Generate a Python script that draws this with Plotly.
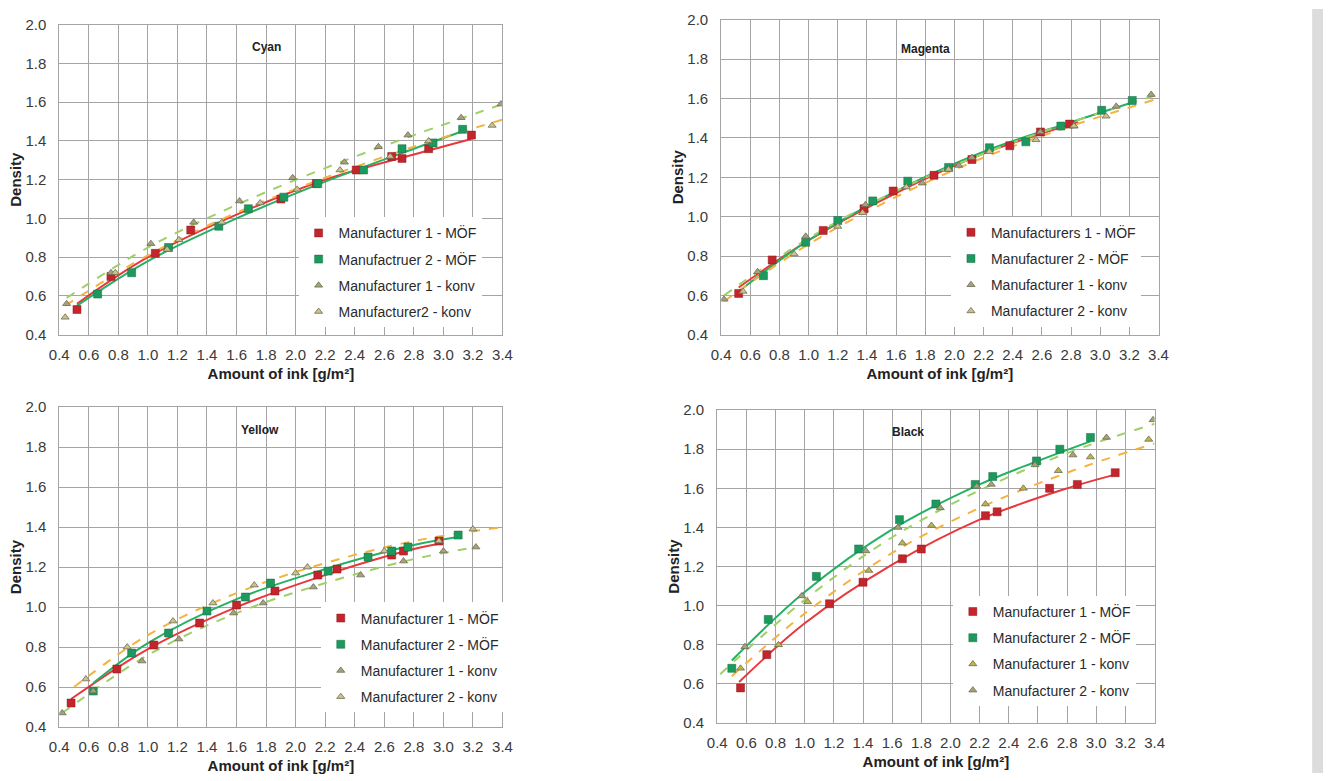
import plotly.graph_objects as go

# ---------------- DATA ----------------
# Cyan
cyan_m1_mof_x = [0.52, 0.75, 1.05, 1.29, 1.90, 2.14, 2.41, 2.65, 2.72, 2.90, 3.19]
cyan_m1_mof_y = [0.53, 0.70, 0.82, 0.94, 1.10, 1.18, 1.25, 1.32, 1.31, 1.36, 1.43]
cyan_m2_mof_x = [0.66, 0.89, 1.14, 1.48, 1.68, 1.92, 2.15, 2.46, 2.72, 2.93, 3.13]
cyan_m2_mof_y = [0.61, 0.72, 0.85, 0.96, 1.05, 1.11, 1.18, 1.25, 1.36, 1.39, 1.46]
cyan_m1_konv_x = [0.45, 0.75, 1.02, 1.31, 1.62, 1.98, 2.33, 2.56, 2.76, 3.12, 3.39]
cyan_m1_konv_y = [0.56, 0.72, 0.87, 0.98, 1.09, 1.21, 1.29, 1.37, 1.43, 1.52, 1.59]
cyan_m2_konv_x = [0.44, 0.78, 1.13, 1.21, 1.50, 1.76, 2.01, 2.30, 2.64, 2.90, 3.33]
cyan_m2_konv_y = [0.49, 0.72, 0.84, 0.89, 0.98, 1.08, 1.15, 1.25, 1.32, 1.40, 1.48]
cyan_fit_m1_mof_x = [0.52, 1.0, 1.6, 2.2, 2.8, 3.19]
cyan_fit_m1_mof_y = [0.56, 0.80, 1.02, 1.20, 1.33, 1.41]
cyan_fit_m2_mof_x = [0.52, 1.0, 1.6, 2.2, 2.8, 3.13]
cyan_fit_m2_mof_y = [0.55, 0.78, 1.00, 1.19, 1.36, 1.45]
cyan_fit_m1_konv_x = [0.45, 1.0, 1.6, 2.2, 2.8, 3.4]
cyan_fit_m1_konv_y = [0.59, 0.85, 1.07, 1.26, 1.43, 1.59]
cyan_fit_m2_konv_x = [0.44, 1.0, 1.6, 2.2, 2.8, 3.4]
cyan_fit_m2_konv_y = [0.55, 0.81, 1.03, 1.21, 1.37, 1.51]
cyan_names = ["Manufacturer 1 - MÖF", "Manufactruer 2 - MÖF",
              "Manufacturer 1 - konv", "Manufacturer2 - konv"]

# Magenta
magenta_m1_mof_x = [0.52, 0.75, 1.10, 1.38, 1.58, 1.86, 2.12, 2.38, 2.59, 2.79]
magenta_m1_mof_y = [0.61, 0.78, 0.93, 1.04, 1.13, 1.21, 1.29, 1.36, 1.43, 1.47]
magenta_m2_mof_x = [0.69, 0.98, 1.20, 1.44, 1.68, 1.96, 2.24, 2.49, 2.73, 3.01, 3.22]
magenta_m2_mof_y = [0.70, 0.87, 0.98, 1.08, 1.18, 1.25, 1.35, 1.38, 1.46, 1.54, 1.59]
magenta_m1_konv_x = [0.42, 0.65, 0.98, 1.39, 1.78, 2.03, 2.12, 2.59, 2.82, 3.11, 3.35]
magenta_m1_konv_y = [0.58, 0.72, 0.90, 1.06, 1.17, 1.26, 1.30, 1.43, 1.46, 1.56, 1.62]
magenta_m2_konv_x = [0.55, 0.90, 1.20, 1.37, 1.67, 1.96, 2.24, 2.56, 2.82, 3.04]
magenta_m2_konv_y = [0.62, 0.81, 0.95, 1.02, 1.15, 1.24, 1.33, 1.39, 1.46, 1.51]
magenta_fit_m1_mof_x = [0.52, 1.0, 1.6, 2.2, 2.85]
magenta_fit_m1_mof_y = [0.64, 0.88, 1.12, 1.32, 1.48]
magenta_fit_m2_mof_x = [0.52, 1.0, 1.6, 2.2, 2.8, 3.22]
magenta_fit_m2_mof_y = [0.62, 0.88, 1.13, 1.33, 1.48, 1.58]
magenta_fit_m1_konv_x = [0.42, 1.0, 1.6, 2.2, 2.8, 3.4]
magenta_fit_m1_konv_y = [0.60, 0.89, 1.13, 1.32, 1.48, 1.62]
magenta_fit_m2_konv_x = [0.42, 1.0, 1.6, 2.2, 2.8, 3.4]
magenta_fit_m2_konv_y = [0.57, 0.86, 1.10, 1.30, 1.46, 1.60]
magenta_names = ["Manufacturers 1 - MÖF", "Manufacturer 2 - MÖF",
                 "Manufacturer 1 - konv", "Manufacturer 2 - konv"]

# Yellow
yellow_m1_mof_x = [0.48, 0.79, 1.04, 1.35, 1.60, 1.86, 2.15, 2.28, 2.65, 2.73, 2.97]
yellow_m1_mof_y = [0.52, 0.69, 0.81, 0.92, 1.01, 1.08, 1.16, 1.19, 1.26, 1.28, 1.33]
yellow_m2_mof_x = [0.63, 0.89, 1.14, 1.40, 1.66, 1.83, 2.22, 2.49, 2.65, 2.76, 3.10]
yellow_m2_mof_y = [0.58, 0.77, 0.87, 0.98, 1.05, 1.12, 1.18, 1.25, 1.28, 1.30, 1.36]
yellow_m1_konv_x = [0.42, 0.63, 0.96, 1.21, 1.58, 1.78, 2.12, 2.44, 2.73, 3.00, 3.22]
yellow_m1_konv_y = [0.47, 0.58, 0.73, 0.84, 0.97, 1.02, 1.10, 1.16, 1.23, 1.28, 1.30]
yellow_m2_konv_x = [0.58, 0.86, 1.17, 1.44, 1.72, 2.00, 2.08, 2.60, 2.97, 3.20]
yellow_m2_konv_y = [0.64, 0.80, 0.93, 1.02, 1.11, 1.17, 1.20, 1.28, 1.33, 1.39]
yellow_fit_m1_mof_x = [0.48, 1.0, 1.6, 2.2, 2.8, 3.0]
yellow_fit_m1_mof_y = [0.54, 0.79, 1.00, 1.16, 1.29, 1.32]
yellow_fit_m2_mof_x = [0.63, 1.0, 1.6, 2.2, 2.8, 3.1]
yellow_fit_m2_mof_y = [0.62, 0.82, 1.04, 1.19, 1.31, 1.35]
yellow_fit_m1_konv_x = [0.42, 1.0, 1.6, 2.2, 2.8, 3.22]
yellow_fit_m1_konv_y = [0.47, 0.76, 0.97, 1.12, 1.24, 1.30]
yellow_fit_m2_konv_x = [0.50, 1.0, 1.6, 2.2, 2.8, 3.4]
yellow_fit_m2_konv_y = [0.60, 0.86, 1.07, 1.22, 1.33, 1.40]
yellow_names = ["Manufacturer 1 - MÖF", "Manufacturer 2 - MÖF",
                "Manufacturer 1 - konv", "Manufacturer 2 - konv"]

# Black
black_m1_mof_x = [0.56, 0.74, 1.17, 1.40, 1.67, 1.80, 2.24, 2.32, 2.68, 2.87, 3.13]
black_m1_mof_y = [0.58, 0.75, 1.01, 1.12, 1.24, 1.29, 1.46, 1.48, 1.60, 1.62, 1.68]
black_m2_mof_x = [0.50, 0.75, 1.08, 1.37, 1.65, 1.90, 2.17, 2.29, 2.59, 2.75, 2.96]
black_m2_mof_y = [0.68, 0.93, 1.15, 1.29, 1.44, 1.52, 1.62, 1.66, 1.74, 1.80, 1.86]
black_m1_konv_x = [0.56, 0.82, 1.02, 1.44, 1.67, 1.87, 2.24, 2.50, 2.74, 2.96, 3.36]
black_m1_konv_y = [0.68, 0.80, 1.02, 1.18, 1.32, 1.41, 1.52, 1.60, 1.69, 1.76, 1.85]
black_m2_konv_x = [0.59, 0.98, 1.42, 1.64, 1.93, 2.18, 2.28, 2.58, 2.84, 3.07, 3.39]
black_m2_konv_y = [0.79, 1.05, 1.28, 1.40, 1.50, 1.61, 1.62, 1.72, 1.77, 1.86, 1.95]
black_fit_m1_mof_x = [0.55, 1.0, 1.6, 2.2, 2.8, 3.13]
black_fit_m1_mof_y = [0.61, 0.91, 1.21, 1.44, 1.60, 1.67]
black_fit_m2_mof_x = [0.50, 1.0, 1.6, 2.2, 2.6, 2.96]
black_fit_m2_mof_y = [0.72, 1.07, 1.39, 1.62, 1.74, 1.84]
black_fit_m1_konv_x = [0.50, 1.0, 1.6, 2.2, 2.8, 3.4]
black_fit_m1_konv_y = [0.64, 0.96, 1.27, 1.50, 1.68, 1.83]
black_fit_m2_konv_x = [0.42, 1.0, 1.6, 2.2, 2.8, 3.4]
black_fit_m2_konv_y = [0.65, 1.03, 1.35, 1.59, 1.78, 1.93]
black_names = ["Manufacturer 1 - MÖF", "Manufacturer 2 - MÖF",
               "Manufacturer 1 - konv", "Manufacturer 2 - konv"]

x_ticks = [0.4, 0.6, 0.8, 1.0, 1.2, 1.4, 1.6, 1.8, 2.0, 2.2, 2.4, 2.6, 2.8, 3.0, 3.2, 3.4]
y_ticks = [0.4, 0.6, 0.8, 1.0, 1.2, 1.4, 1.6, 1.8, 2.0]

# ---------------- STYLE ----------------
FONT = "Liberation Sans, Arial, sans-serif"
RED_MK, RED_LN = "#c4252c", "#e8383c"
GRN_MK, GRN_LN = "#1c9a5e", "#25b064"
DASH_GRN, DASH_ORG = "#9fd068", "#f6b23e"
TRI = "#a6a27e"
TRI_EDGE = "#6f6b50"
GRID = "#a4a4a4"

# pixel boxes of the plot areas; title / legend anchors in data units
panels = [
    dict(key="cyan", title="Cyan", names=cyan_names, ax="", leg="legend",
         dx=[50, 500], dy=[16, 333], title_at=(1.80, 1.885), leg_at=(2.30, 0.91),
         data=[(cyan_m1_mof_x, cyan_m1_mof_y), (cyan_m2_mof_x, cyan_m2_mof_y),
               (cyan_m1_konv_x, cyan_m1_konv_y), (cyan_m2_konv_x, cyan_m2_konv_y)],
         fits=[(cyan_fit_m1_mof_x, cyan_fit_m1_mof_y), (cyan_fit_m2_mof_x, cyan_fit_m2_mof_y),
               (cyan_fit_m1_konv_x, cyan_fit_m1_konv_y), (cyan_fit_m2_konv_x, cyan_fit_m2_konv_y)],
         konv_cols=[DASH_GRN, DASH_ORG], tri_cols=[TRI, "#c9c38e"]),
    dict(key="magenta", title="Magenta", names=magenta_names, ax="2", leg="legend2",
         dx=[722, 1166], dy=[11, 333], title_at=(1.80, 1.85), leg_at=(2.26, 0.905),
         data=[(magenta_m1_mof_x, magenta_m1_mof_y), (magenta_m2_mof_x, magenta_m2_mof_y),
               (magenta_m1_konv_x, magenta_m1_konv_y), (magenta_m2_konv_x, magenta_m2_konv_y)],
         fits=[(magenta_fit_m1_mof_x, magenta_fit_m1_mof_y), (magenta_fit_m2_mof_x, magenta_fit_m2_mof_y),
               (magenta_fit_m1_konv_x, magenta_fit_m1_konv_y), (magenta_fit_m2_konv_x, magenta_fit_m2_konv_y)],
         konv_cols=[DASH_GRN, DASH_ORG], tri_cols=[TRI, "#c9c38e"]),
    dict(key="yellow", title="Yellow", names=yellow_names, ax="3", leg="legend3",
         dx=[50, 500], dy=[407, 734], title_at=(1.76, 1.886), leg_at=(2.45, 0.93),
         data=[(yellow_m1_mof_x, yellow_m1_mof_y), (yellow_m2_mof_x, yellow_m2_mof_y),
               (yellow_m1_konv_x, yellow_m1_konv_y), (yellow_m2_konv_x, yellow_m2_konv_y)],
         fits=[(yellow_fit_m1_mof_x, yellow_fit_m1_mof_y), (yellow_fit_m2_mof_x, yellow_fit_m2_mof_y),
               (yellow_fit_m1_konv_x, yellow_fit_m1_konv_y), (yellow_fit_m2_konv_x, yellow_fit_m2_konv_y)],
         konv_cols=[DASH_GRN, DASH_ORG], tri_cols=[TRI, "#c9c38e"]),
    dict(key="black", title="Black", names=black_names, ax="4", leg="legend4",
         dx=[718, 1162], dy=[410, 730], title_at=(1.71, 1.89), leg_at=(2.30, 0.955),
         data=[(black_m1_mof_x, black_m1_mof_y), (black_m2_mof_x, black_m2_mof_y),
               (black_m1_konv_x, black_m1_konv_y), (black_m2_konv_x, black_m2_konv_y)],
         fits=[(black_fit_m1_mof_x, black_fit_m1_mof_y), (black_fit_m2_mof_x, black_fit_m2_mof_y),
               (black_fit_m1_konv_x, black_fit_m1_konv_y), (black_fit_m2_konv_x, black_fit_m2_konv_y)],
         konv_cols=[DASH_ORG, DASH_GRN], tri_cols=["#bdb44a", TRI]),
]

W, H = 1333, 781
fig = go.Figure()
layout = dict(width=W, height=H, margin=dict(l=0, r=0, t=0, b=0),
              paper_bgcolor="white", plot_bgcolor="white",
              font=dict(family=FONT, color="#333333"), annotations=[], shapes=[])

for p in panels:
    xa, ya = "x" + p["ax"], "y" + p["ax"]
    fit_styles = [dict(color=RED_LN, width=2), dict(color=GRN_LN, width=2),
                  dict(color=p["konv_cols"][0], width=2, dash="dash"),
                  dict(color=p["konv_cols"][1], width=2, dash="dash")]
    for (fx, fy), st in zip(p["fits"], fit_styles):
        fig.add_trace(go.Scatter(x=fx, y=fy, mode="lines", line=dict(shape="spline", **st),
                                 xaxis=xa, yaxis=ya, showlegend=False, hoverinfo="skip"))
    marker_styles = [
        dict(symbol="square", size=8, color=RED_MK, line=dict(color="#8a1a1e", width=0.5)),
        dict(symbol="square", size=8, color=GRN_MK, line=dict(color="#126b40", width=0.5)),
        dict(symbol="triangle-up", size=7, color=p["tri_cols"][0], line=dict(color=TRI_EDGE, width=0.8)),
        dict(symbol="triangle-up", size=7, color=p["tri_cols"][1], line=dict(color=TRI_EDGE, width=0.8)),
    ]
    for i, ((dx_, dy_), ms, nm) in enumerate(zip(p["data"], marker_styles, p["names"])):
        fig.add_trace(go.Scatter(x=dx_, y=dy_, mode="markers", marker=ms, name=nm,
                                 xaxis=xa, yaxis=ya, legend=p["leg"],
                                 legendgroup=p["key"] + str(i)))

    x0, x1 = p["dx"]
    y0, y1 = p["dy"]
    px_x = lambda v: x0 + (v - 0.4) / 3.0 * (x1 - x0)
    px_y = lambda v: y1 - (v - 0.4) / 1.6 * (y1 - y0)

    layout["xaxis" + p["ax"]] = dict(
        domain=[x0 / W, x1 / W], anchor=ya, range=[0.4, 3.4], tickvals=x_ticks,
        ticktext=[f"{v:.1f}" for v in x_ticks],
        showgrid=True, gridcolor=GRID, gridwidth=1,
        showline=True, linecolor=GRID, mirror=True, zeroline=False,
        ticks="", ticklabelstandoff=6,
        tickfont=dict(size=15, color="#3a3a3a", family=FONT),
        title=dict(text="<b>Amount of ink [g/m²]</b>", standoff=6,
                   font=dict(size=15, color="#222222", family=FONT)))
    layout["yaxis" + p["ax"]] = dict(
        domain=[1 - y1 / H, 1 - y0 / H], anchor=xa, range=[0.4, 2.0], tickvals=y_ticks,
        ticktext=[f"{v:.1f}" for v in y_ticks],
        showgrid=True, gridcolor=GRID, gridwidth=1,
        showline=True, linecolor=GRID, mirror=True, zeroline=False,
        ticks="", ticklabelstandoff=9,
        tickfont=dict(size=15, color="#3a3a3a", family=FONT),
        title=dict(text="<b>Density</b>", standoff=0,
                   font=dict(size=15, color="#222222", family=FONT)))
    layout["annotations"].append(dict(
        text="<b>" + p["title"] + "</b>", x=p["title_at"][0], y=p["title_at"][1],
        xref=xa, yref=ya, showarrow=False,
        font=dict(size=12, color="#222222", family=FONT)))
    lx = px_x(p["leg_at"][0]) - 42
    ly = px_y(p["leg_at"][1]) - 19
    layout[p["leg"]] = dict(x=lx / W, y=1 - ly / H,
                            xanchor="left", yanchor="top", bgcolor="white",
                            font=dict(size=14, color="#2a2a2a", family=FONT),
                            itemwidth=30, tracegroupgap=5, itemclick=False)

# scan edge strip at the right
layout["shapes"].append(dict(type="rect", xref="paper", yref="paper", x0=1322 / W, x1=1,
                             y0=0, y1=1, fillcolor="#dcdcdc", line=dict(width=0), layer="below"))

fig.update_layout(**layout)
fig.write_html("out.html")
